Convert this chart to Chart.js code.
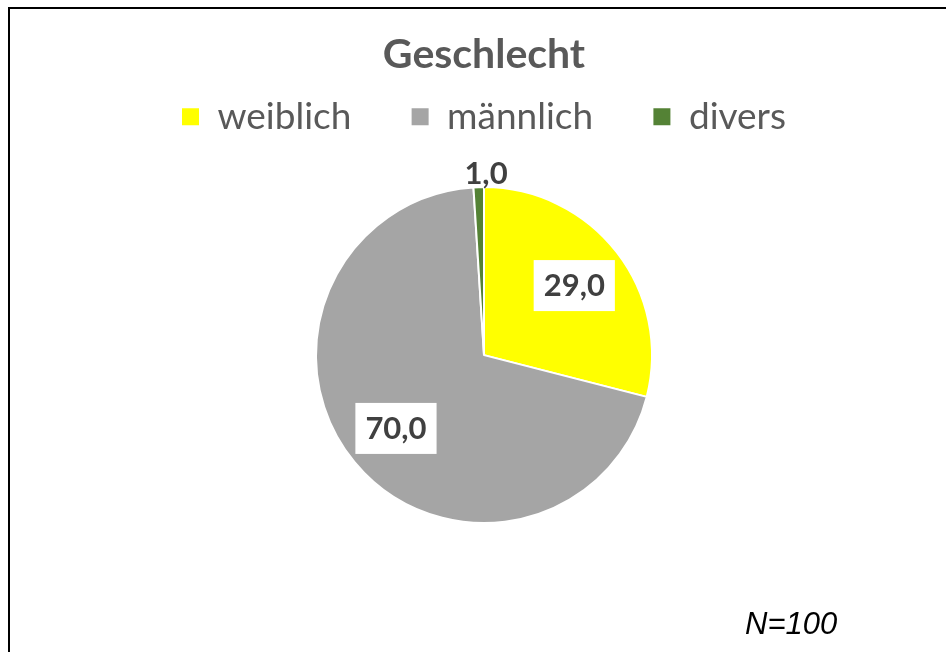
<!DOCTYPE html>
<html>
<head>
<meta charset="utf-8">
<script src="https://cdn.jsdelivr.net/npm/chart.js@4"></script>
<style>
  html, body { margin: 0; padding: 0; background: #fff; }
  #wrap { position: absolute; left: 0; top: 0; width: 946px; height: 652px; }
  #frame { position: absolute; left: 8px; top: 7px; width: 1000px; height: 700px;
           border-top: 2px solid #000; border-left: 2px solid #000; }
</style>
</head>
<body>
<div id="frame"></div>
<div id="wrap"><canvas id="pie-chart" width="946" height="652"></canvas></div>
<script>
const labels = ["weiblich", "männlich", "divers"];
const values = [29.0, 70.0, 1.0];
const colors = ["#FFFF00", "#A5A5A5", "#548235"];
const titleText = "Geschlecht";
const noteText = "N=100";

const ctx = document.getElementById('pie-chart');

// value labels + the N note
const labelPlugin = {
  id: 'valueLabels',
  afterDatasetsDraw(chart) {
    const c = chart.ctx;
    const arcs = chart.getDatasetMeta(0).data;
    c.save();
    c.font = "bold 31px Lato";
    c.textAlign = "center";
    c.textBaseline = "middle";
    arcs.forEach(function (arc, i) {
      const p = arc.getProps(['x', 'y', 'startAngle', 'endAngle', 'outerRadius'], true);
      const mid = (p.startAngle + p.endAngle) / 2;
      const text = values[i].toFixed(1).replace('.', ',');
      const w = c.measureText(text).width;
      let x, y;
      if (values[i] >= 5) {
        x = p.x + Math.cos(mid) * p.outerRadius * 0.68;
        y = p.y + Math.sin(mid) * p.outerRadius * 0.68;
        c.fillStyle = "#FFFFFF";
        c.fillRect(x - w / 2 - 10, y - 25, w + 20, 51);
      } else {
        x = p.x + 2;
        y = p.y - p.outerRadius - 14;
      }
      c.fillStyle = "#404040";
      c.fillText(text, x, y + 1);
    });
    c.font = "italic 31px 'Liberation Sans'";
    c.fillStyle = "#000000";
    c.textAlign = "left";
    c.textBaseline = "alphabetic";
    c.fillText(noteText, 745, 634);
    c.restore();
  }
};

new Chart(ctx, {
  type: 'pie',
  data: {
    labels: labels,
    datasets: [{
      data: values,
      backgroundColor: colors,
      borderColor: "#FFFFFF",
      borderWidth: 2,
      radius: 168
    }]
  },
  options: {
    responsive: false,
    animation: false,
    layout: { padding: { left: 22, right: 0, top: 0, bottom: 87 } },
    plugins: {
      title: {
        display: true,
        text: titleText,
        color: "#595959",
        font: { family: "Lato", size: 41, weight: "bold" },
        padding: { top: 30, bottom: 5 }
      },
      legend: {
        position: 'top',
        labels: {
          color: "#595959",
          font: { family: "Lato", size: 37 },
          boxWidth: 17,
          boxHeight: 17,
          padding: 14,
          generateLabels: function (chart) {
            const items = Chart.controllers.pie.overrides.plugins.legend.labels.generateLabels(chart);
            // extra gap after every entry but the last
            return items.map(function (it, i) {
              if (i < items.length - 1) it.text = it.text + "\u2003\u2002";
              it.strokeStyle = it.fillStyle;
              it.lineWidth = 0;
              return it;
            });
          }
        }
      },
      tooltip: { enabled: false }
    }
  },
  plugins: [labelPlugin]
});
</script>
</body>
</html>
